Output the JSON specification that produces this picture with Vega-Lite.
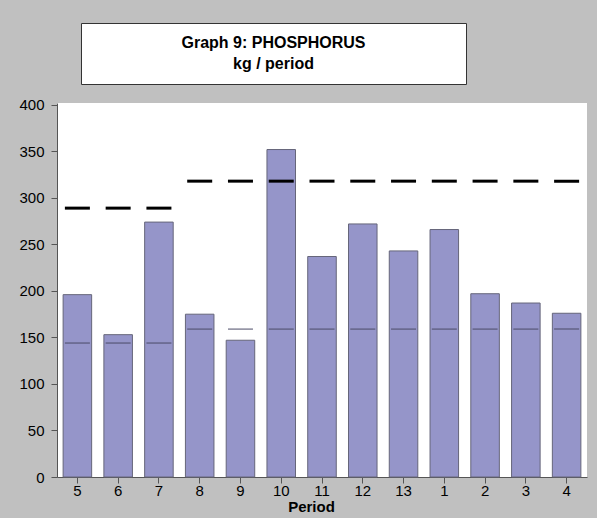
{
  "$schema": "https://vega.github.io/schema/vega-lite/v6.json",
  "background": "#c0c0c0",
  "padding": {"left": 17, "top": 22, "right": 10, "bottom": 6},
  "spacing": 12,
  "config": {
    "font": "Liberation Sans",
    "view": {"fill": "white", "stroke": null}
  },
  "vconcat": [
    {
      "spacing": 0,
      "hconcat": [
        {
          "width": 23,
          "height": 61,
          "view": {"fill": null, "stroke": null},
          "data": {"values": []},
          "mark": {"type": "point", "opacity": 0},
          "encoding": {}
        },
        {
          "width": 385,
          "height": 61,
          "view": {"fill": "white", "stroke": "#333333", "strokeWidth": 1},
          "data": {"values": [{"line": "Graph 9: PHOSPHORUS"}, {"line": "kg / period"}]},
          "mark": {"type": "text", "font": "Liberation Sans", "fontSize": 16, "fontWeight": "bold", "color": "black"},
          "encoding": {
            "y": {
              "field": "line", "type": "nominal", "sort": null,
              "scale": {"type": "point", "padding": 1.1},
              "axis": null
            },
            "text": {"field": "line"}
          }
        }
      ]
    },
    {
      "width": 530,
      "height": 374,
      "data": {"values": [
        {"period": "5", "value": 196, "lower": 144, "upper": 289},
        {"period": "6", "value": 153, "lower": 144, "upper": 289},
        {"period": "7", "value": 274, "lower": 144, "upper": 289},
        {"period": "8", "value": 175, "lower": 159, "upper": 318},
        {"period": "9", "value": 147, "lower": 159, "upper": 318},
        {"period": "10", "value": 352, "lower": 159, "upper": 318},
        {"period": "11", "value": 237, "lower": 159, "upper": 318},
        {"period": "12", "value": 272, "lower": 159, "upper": 318},
        {"period": "13", "value": 243, "lower": 159, "upper": 318},
        {"period": "1", "value": 266, "lower": 159, "upper": 318},
        {"period": "2", "value": 197, "lower": 159, "upper": 318},
        {"period": "3", "value": 187, "lower": 159, "upper": 318},
        {"period": "4", "value": 176, "lower": 159, "upper": 318}
      ]},
      "encoding": {
        "x": {
          "field": "period", "type": "ordinal",
          "sort": ["5", "6", "7", "8", "9", "10", "11", "12", "13", "1", "2", "3", "4"],
          "scale": {"paddingInner": 0.3, "paddingOuter": 0.15},
          "axis": {
            "title": "Period", "titleFontSize": 15, "titleFontWeight": "bold", "titleColor": "black",
            "titleX": 254, "titlePadding": 1,
            "labelAngle": 0, "labelFontSize": 15, "labelColor": "black", "labelPadding": 0,
            "tickSize": 6, "tickColor": "#555555", "domainColor": "#555555", "grid": false
          }
        }
      },
      "layer": [
        {
          "mark": {"type": "bar", "fill": "#9595c9", "stroke": "#66667a", "strokeWidth": 1},
          "encoding": {
            "y": {
              "field": "value", "type": "quantitative",
              "scale": {"domain": [0, 402], "nice": false},
              "axis": {
                "values": [0, 25, 50, 75, 100, 125, 150, 175, 200, 225, 250, 275, 300, 325, 350, 375, 400],
                "labelExpr": "datum.value % 50 === 0 ? datum.label : ''",
                "tickSize": {"condition": {"test": "datum.value % 50 === 0", "value": 6}, "value": 3.5},
                "labelPadding": 7, "labelFontSize": 15, "labelColor": "black",
                "tickColor": "#555555", "domainColor": "#555555", "grid": false, "title": null,
                "minExtent": 40, "maxExtent": 40
              }
            }
          }
        },
        {
          "mark": {"type": "tick", "size": 25, "thickness": 1, "color": "#4a4a66", "opacity": 1},
          "encoding": {"y": {"field": "lower", "type": "quantitative", "title": null}}
        },
        {
          "mark": {"type": "tick", "size": 25, "thickness": 3, "color": "black", "opacity": 1},
          "encoding": {"y": {"field": "upper", "type": "quantitative", "title": null}}
        }
      ]
    }
  ]
}
